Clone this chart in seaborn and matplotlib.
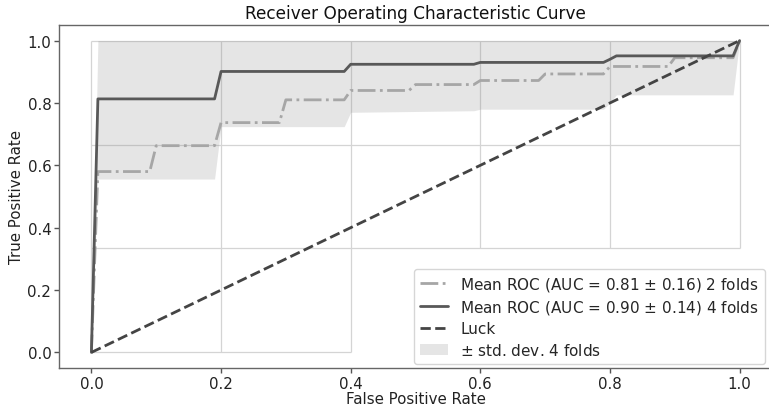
import numpy as np
import pandas as pd
import matplotlib
matplotlib.use("Agg")
import matplotlib.pyplot as plt
import seaborn as sns

# ---- data ----
fpr_2folds = [0, 0.01, 0.09, 0.1, 0.19, 0.2, 0.29, 0.3, 0.39, 0.4, 0.49, 0.5,
              0.59, 0.6, 0.69, 0.7, 0.79, 0.8, 0.89, 0.9, 0.99, 1.0]
tpr_2folds = [0, 0.58, 0.58, 0.663, 0.663, 0.737, 0.737, 0.81, 0.81, 0.84, 0.84, 0.859,
              0.859, 0.872, 0.872, 0.893, 0.893, 0.917, 0.917, 0.945, 0.945, 1.0]

fpr_4folds = [0, 0.01, 0.19, 0.2, 0.39, 0.4, 0.59, 0.6, 0.79, 0.8, 0.81, 0.99, 1.0]
tpr_4folds = [0, 0.813, 0.813, 0.901, 0.901, 0.924, 0.924, 0.93, 0.93, 0.94, 0.951, 0.951, 1.0]
band_lower = [0, 0.556, 0.556, 0.724, 0.724, 0.770, 0.775, 0.780, 0.780, 0.80, 0.826, 0.826, 1.0]
band_upper = [0, 1.0, 1.0, 1.0, 1.0, 1.0, 1.0, 1.0, 1.0, 1.0, 1.0, 1.0, 1.0]

luck_x = [0, 1]
luck_y = [0, 1]

label_2folds = "Mean ROC (AUC = 0.81 $\\pm$ 0.16) 2 folds"
label_4folds = "Mean ROC (AUC = 0.90 $\\pm$ 0.14) 4 folds"
label_luck = "Luck"
label_band = "$\\pm$ std. dev. 4 folds"

x_ticks = [0.0, 0.2, 0.4, 0.6, 0.8, 1.0]
y_ticks = [0.0, 0.2, 0.4, 0.6, 0.8, 1.0]

# light grid segments visible in the reference
grid_v_x = [0.0, 0.2, 0.4, 0.6, 0.8, 1.0]
grid_v_lo = [0.0, 0.0, 0.0, 1/3, 1/3, 1/3]
grid_h_y = [1.0, 2/3, 1/3, 0.0]
grid_h_hi = [1.0, 1.0, 1.0, 0.4]

# ---- plotting ----
sns.set_style("white")
plt.rcParams['font.family'] = ['DejaVu Sans']

fig = plt.figure(figsize=(7.69, 4.06), dpi=100)
ax = fig.add_axes([59/769, 37/406, 713/769, 343/406])

for x, lo in zip(grid_v_x, grid_v_lo):
    ax.vlines(x, lo, 1.0, color="#d4d4d4", lw=0.9, zorder=0)
for y, hi in zip(grid_h_y, grid_h_hi):
    ax.hlines(y, 0.0, hi, color="#d4d4d4", lw=0.9, zorder=0)

ax.fill_between(fpr_4folds, band_lower, band_upper, color="grey", alpha=0.2,
                lw=0, label=label_band, zorder=1)

df2 = pd.DataFrame({"fpr": fpr_2folds, "tpr": tpr_2folds})
df4 = pd.DataFrame({"fpr": fpr_4folds, "tpr": tpr_4folds})
dfl = pd.DataFrame({"fpr": luck_x, "tpr": luck_y})

sns.lineplot(data=df2, x="fpr", y="tpr", ax=ax, color="#a6a6a6", lw=2,
             linestyle="-.", label=label_2folds, sort=False, estimator=None, zorder=3)
sns.lineplot(data=df4, x="fpr", y="tpr", ax=ax, color="#585858", lw=2,
             linestyle="-", label=label_4folds, sort=False, estimator=None, zorder=4)
sns.lineplot(data=dfl, x="fpr", y="tpr", ax=ax, color="#444444", lw=2,
             linestyle="--", label=label_luck, sort=False, estimator=None, zorder=5)

ax.set_xlim(-0.05, 1.05)
ax.set_ylim(-0.05, 1.05)
ax.set_xticks(x_ticks)
ax.set_yticks(y_ticks)
ax.set_xticklabels([f"{t:.1f}" for t in x_ticks])
ax.set_yticklabels([f"{t:.1f}" for t in y_ticks])
ax.tick_params(axis="both", which="both", direction="out", length=3.5, width=1,
               color="#555555", labelsize=10.8, labelcolor="#222222", pad=2,
               left=True, bottom=True)
for s in ax.spines.values():
    s.set_color("#666666")
    s.set_linewidth(1)

ax.set_xlabel("False Positive Rate", fontsize=10.8, color="#222222")
ax.set_ylabel("True Positive Rate", fontsize=10.8, color="#222222")
ax.xaxis.set_label_coords(0.5, -0.068)
ax.yaxis.set_label_coords(-0.049, 0.5)
ax.set_title("Receiver Operating Characteristic Curve", fontsize=12.2, color="#111111", pad=5)

handles, labels = ax.get_legend_handles_labels()
order = [labels.index(label_2folds), labels.index(label_4folds),
         labels.index(label_luck), labels.index(label_band)]
ax.legend([handles[i] for i in order], [labels[i] for i in order],
          loc="lower right", bbox_to_anchor=(0.99, 0.012), borderaxespad=0,
          fontsize=11, frameon=True, framealpha=0.8, labelspacing=0.35,
          edgecolor="#cccccc", handlelength=1.8)

fig.savefig("out.png", dpi=100)
